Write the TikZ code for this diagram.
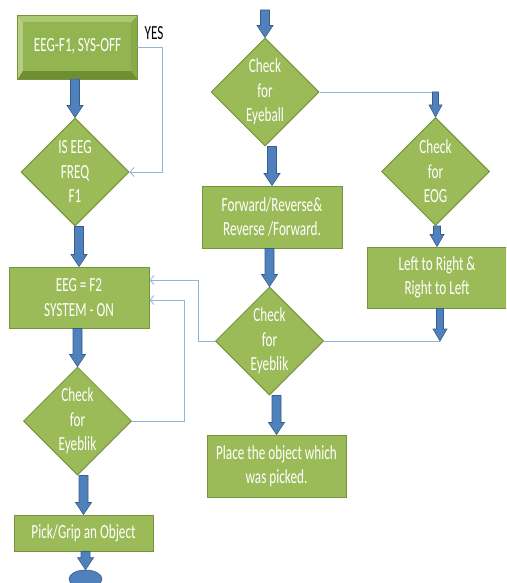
\documentclass[tikz,border=0pt]{standalone}
\usepackage{fontspec}
\setmainfont{Carlito}[FakeStretch=0.66]
\usetikzlibrary{shapes.geometric,calc,arrows.meta}

\definecolor{leaf}{HTML}{9BBB59}
\definecolor{leafedge}{HTML}{77933C}
\definecolor{leaflight}{HTML}{ADC872}
\definecolor{leafdark}{HTML}{6F8E34}
\definecolor{leafmid}{HTML}{88AA48}
\definecolor{leafface}{HTML}{92B552}
\definecolor{flow}{HTML}{4F81BD}
\definecolor{flowedge}{HTML}{385D8A}
\definecolor{wire}{HTML}{95B3D7}

% thick block arrow pointing down, shaft centred on the target
\newcommand{\blockarrow}[4]{%
  \path let \p1=(#1), \p2=(#2) in
    [fill=flow, draw=flowedge, line width=0.6pt, line join=miter]
    (\x2-#3,\y1) -- (\x2+#3,\y1) -- (\x2+#3,\y2+12pt) -- (\x2+#4,\y2+12pt)
    -- (\x2,\y2) -- (\x2-#4,\y2+12pt) -- (\x2-#3,\y2+12pt) -- cycle;}

\begin{document}
\begin{tikzpicture}[x=1pt,y=-1pt,
  every node/.style={font=\fontsize{20}{24.5}\selectfont, text=white, align=center},
  stepbox/.style={rectangle, fill=leaf, draw=leafedge, line width=1pt, inner sep=0pt},
  testbox/.style={diamond, fill=leaf, draw=leafedge, line width=1pt, inner sep=0pt,
    minimum width=108pt, minimum height=108pt},
  wireline/.style={draw=wire, line width=0.8pt, line join=miter},
  wirearrow/.style={wireline, -{Straight Barb[length=4pt,width=9pt]}}]

\useasboundingbox (0,0) rectangle (506,583);
\clip (0,0) rectangle (506,583);

% bevelled start box
\node[rectangle, minimum width=119pt, minimum height=63pt, inner sep=0pt] (top) at (77.5,47.5) {};
\fill[leafmid] (top.north west) rectangle (top.south east);
\fill[leaflight] (top.north west) -- (top.north east) -- ($(top.north east)+(-6,6)$)
  -- ($(top.north west)+(5,6)$) -- cycle;
\fill[leaflight!90!white] (top.north west) -- ($(top.north west)+(5,6)$)
  -- ($(top.south west)+(5,-8)$) -- (top.south west) -- cycle;
\fill[leafdark] (top.south west) -- ($(top.south west)+(5,-8)$)
  -- ($(top.south east)+(-6,-8)$) -- (top.south east) -- cycle;
\fill[leafface] ($(top.north west)+(5,6)$) rectangle ($(top.south east)+(-6,-8)$);
\draw[leafedge, line width=0.8pt] (top.north west) rectangle (top.south east);
\node at ($(top.center)+(0,-1)$) {EEG-F1, SYS-OFF};

% left column
\node[testbox] (isf1) at (75,172) {IS EEG\\FREQ\\F1};
\node[stepbox, minimum width=140pt, minimum height=61pt] (sysOn) at (79,297.5)
  {EEG = F2\\SYSTEM - ON};
\node[testbox] (blinkL) at (77.5,421) {Check\\for\\Eyeblik};
\node[stepbox, minimum width=139pt, minimum height=36pt] (grip) at (83.5,533)
  {Pick/Grip an Object};
\node[ellipse, fill=flow, draw=flowedge, line width=0.6pt, minimum width=33pt,
  minimum height=18pt, inner sep=0pt] (stop) at (85.5,579) {};

% middle column
\coordinate (entry) at (263,10);
\node[testbox] (eyeball) at (265,92) {Check\\for\\Eyeball};
\node[stepbox, minimum width=140pt, minimum height=62pt] (fwd) at (272,217)
  {Forward/Reverse\&\\Reverse /Forward.};
\node[testbox] (blinkR) at (269.5,341) {Check\\for\\Eyeblik};
\node[stepbox, minimum width=139pt, minimum height=62pt] (place) at (276.5,466)
  {Place the object which\\was picked.};

% right column
\node[testbox] (eog) at (435.5,171.5) {Check\\for\\EOG};
\node[stepbox, minimum width=140pt, minimum height=61pt] (lr) at (437,277.5)
  {Left to Right \&\\Right to Left};
\coordinate (eogin) at (435,92);
\coordinate (lrout) at (440,341);

% thin connectors
\draw[wirearrow] (top.east) -- (162,47.5) |- (isf1.east);
\node[text=black, anchor=south] (yes) at (154,43) {YES};
\draw[wirearrow] (blinkL.east) -- (184,421) |- ($(sysOn.east)+(0,2.5)$);
\draw[wirearrow] (blinkR.west) -- (198,341) |- ($(sysOn.east)+(0,-17.5)$);
\draw[wireline] (eyeball.east) -- (eogin);
\draw[wireline] (blinkR.east) -- (lrout);

% thick flow arrows
\blockarrow{top.south}{isf1.north}{4.5pt}{8pt}
\blockarrow{isf1.south}{sysOn.north}{4.5pt}{8pt}
\blockarrow{sysOn.south}{blinkL.north}{4.5pt}{8pt}
\blockarrow{blinkL.south}{grip.north}{4.5pt}{8pt}
\blockarrow{grip.south}{stop.north}{4.5pt}{8pt}
\blockarrow{entry}{eyeball.north}{4.5pt}{8pt}
\blockarrow{eyeball.south}{fwd.north}{4.5pt}{8pt}
\blockarrow{fwd.south}{blinkR.north}{4.5pt}{8pt}
\blockarrow{blinkR.south}{place.north}{4.5pt}{8pt}
\blockarrow{eogin}{eog.north}{3pt}{6.5pt}
\blockarrow{eog.south}{lr.north}{3.5pt}{7pt}
\blockarrow{lr.south}{lrout}{3.5pt}{7pt}
\end{tikzpicture}
\end{document}
